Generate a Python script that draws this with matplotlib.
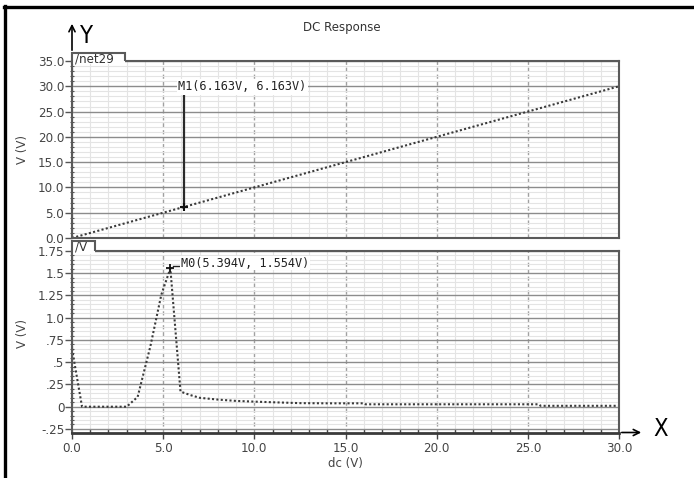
import matplotlib
matplotlib.use("Agg")
import matplotlib.pyplot as plt
from matplotlib.ticker import MultipleLocator, FixedLocator, FixedFormatter
from matplotlib.patches import Polygon, Rectangle, FancyArrowPatch
from matplotlib.lines import Line2D
from matplotlib import font_manager

# ---------------- data ----------------
title = "DC Response"
x_label = "dc (V)"
y_label = "V (V)"

top_name = "/net29"
top_x = [0.0, 5.0, 10.0, 15.0, 20.0, 25.0, 30.0]
top_y = [0.0, 5.0, 10.0, 15.0, 20.0, 25.0, 30.0]

bot_name = "/V"
bot_x = [0.0, 0.55, 1.0, 2.0, 3.0, 3.6, 4.3, 4.9, 5.394, 5.95, 6.5, 7.0, 8.0,
         9.0, 10.0, 11.0, 12.5, 14.0, 16.0, 16.1, 20.0, 25.6, 25.7, 30.0]
bot_y = [0.65, 0.0, 0.0, 0.0, 0.0, 0.11, 0.68, 1.26, 1.554, 0.17, 0.13, 0.10, 0.08,
         0.065, 0.057, 0.05, 0.04, 0.038, 0.038, 0.027, 0.027, 0.027, 0.01, 0.01]

m1 = (6.163, 6.163)
m1_label = "M1(6.163V, 6.163V)"
m0 = (5.394, 1.554)
m0_label = "M0(5.394V, 1.554V)"

x_ticks = [0.0, 5.0, 10.0, 15.0, 20.0, 25.0, 30.0]
x_ticklabels = ["0.0", "5.0", "10.0", "15.0", "20.0", "25.0", "30.0"]
top_yticks = [0.0, 5.0, 10.0, 15.0, 20.0, 25.0, 30.0, 35.0]
top_yticklabels = ["0.0", "5.0", "10.0", "15.0", "20.0", "25.0", "30.0", "35.0"]
bot_yticks = [-0.25, 0.0, 0.25, 0.5, 0.75, 1.0, 1.25, 1.5, 1.75]
bot_yticklabels = ["-.25", "0", ".25", ".5", ".75", "1.0", "1.25", "1.5", "1.75"]

# ---------------- figure ----------------
W, H = 694, 478
fig = plt.figure(figsize=(W / 100, H / 100), dpi=100)
fig.patch.set_facecolor("white")


def fx(px):
    return px / W


def fy(py):
    return 1 - py / H


L, R = 72, 619
ax1 = fig.add_axes([fx(L), fy(238), (R - L) / W, (238 - 61) / H])
ax2 = fig.add_axes([fx(L), fy(432.5), (R - L) / W, (432.5 - 251) / H])

tick_color = "#444444"
line_color = "#3a3a3a"
dotted = (0, (1, 1.1))

for ax in (ax1, ax2):
    ax.set_xlim(0, 30)
    ax.set_axisbelow(True)
    ax.xaxis.set_major_locator(FixedLocator(x_ticks))
    ax.xaxis.set_minor_locator(MultipleLocator(1.0))
    ax.grid(which="minor", axis="both", color="#e4e4e4", lw=0.8)
    ax.grid(which="major", axis="y", color="#8c8c8c", lw=1.0, ls="-")
    ax.grid(which="major", axis="x", color="#a0a0a0", lw=1.0, ls=(0, (3, 2)))
    for s in ax.spines.values():
        s.set_color("#5a5a5a")
        s.set_linewidth(1.5)
    ax.tick_params(axis="y", which="major", direction="out", length=5, width=1,
                   color="#555555", labelsize=8.6, labelcolor=tick_color, pad=0.5)
    ax.tick_params(axis="y", which="minor", direction="inout", length=3, width=0.8,
                   color="#555555")
    ax.set_ylabel(y_label, fontsize=8.5, color=tick_color)

# top panel
ax1.set_ylim(0, 35)
ax1.yaxis.set_major_locator(FixedLocator(top_yticks))
ax1.yaxis.set_major_formatter(FixedFormatter(top_yticklabels))
ax1.yaxis.set_minor_locator(MultipleLocator(1.0))
ax1.tick_params(axis="x", which="both", labelbottom=False, length=0)
ax1.plot(top_x, top_y, color=line_color, lw=1.5, ls=dotted)
ax1.yaxis.set_label_coords(-0.078, 0.5)

# bottom panel
ax2.set_ylim(-0.29, 1.75)
ax2.yaxis.set_major_locator(FixedLocator(bot_yticks))
ax2.yaxis.set_major_formatter(FixedFormatter(bot_yticklabels))
ax2.yaxis.set_minor_locator(MultipleLocator(0.05))
ax2.xaxis.set_major_formatter(FixedFormatter(x_ticklabels))
ax2.spines["bottom"].set_color("#3a3a3a")
ax2.spines["bottom"].set_linewidth(2.0)
ax2.tick_params(axis="x", which="major", direction="out", length=4, width=1,
                color="#444444", labelsize=8.6, labelcolor=tick_color, pad=3)
ax2.tick_params(axis="x", which="minor", direction="in", length=3, width=1,
                color="#444444")
ax2.plot(bot_x, bot_y, color=line_color, lw=1.5, ls=dotted)
ax2.yaxis.set_label_coords(-0.078, 0.548)
ax2.set_xlabel(x_label, fontsize=8.5, color=tick_color, labelpad=1)

# markers
mono = "DejaVu Sans Mono"
ax1.plot([m1[0], m1[0]], [m1[1], 28.3], color="#2a2a2a", lw=1.6)
ax1.plot([m1[0]], [m1[1]], marker="+", ms=6, mew=1.5, color="#111111")
ax1.text(5.81, 29.9, m1_label, fontsize=8.6, family=mono, color="#222222",
         ha="left", va="center",
         bbox=dict(facecolor="white", edgecolor="none", pad=1.0), zorder=5)

ax2.plot([m0[0]], [m0[1]], marker="+", ms=6, mew=1.3, color="#111111")
ax2.plot([m0[0] + 0.12, m0[0] + 0.55], [m0[1] + 0.03, m0[1] + 0.03],
         color="#222222", lw=1.0)
ax2.text(5.98, 1.615, m0_label, fontsize=8.6, family=mono, color="#222222",
         ha="left", va="center",
         bbox=dict(facecolor="white", edgecolor="none", pad=0.5), zorder=5)


# tabs (white box over the axes top with an open outline)
def tab(x0, x1, y_top, y_bot, name):
    rect = Rectangle((fx(x0) + 0.001, fy(y_bot)), fx(x1) - fx(x0) - 0.001, fy(y_top) - fy(y_bot),
                     facecolor="white", edgecolor="none", transform=fig.transFigure, zorder=3)
    fig.add_artist(rect)
    pts = [(fx(x0), fy(y_bot)), (fx(x0), fy(y_top)), (fx(x1), fy(y_top)), (fx(x1), fy(y_bot - 3))]
    poly = Polygon(pts, closed=False, fill=False, edgecolor="#5a5a5a", lw=1.5,
                   transform=fig.transFigure, zorder=4)
    fig.add_artist(poly)
    fig.text(fx(x0 + 3), fy(y_top + 5.5), name, fontsize=8.6, zorder=5,
             color="#333333", ha="left", va="center")


tab(L, 125, 53, 64, top_name)
tab(L, 95, 241, 254, bot_name)

# title
fig.text(fx(342), fy(28), title, fontsize=8.5, color="#333333", ha="center", va="center")

# axis arrows X / Y
names = {f.name for f in font_manager.fontManager.ttflist}
big_font = "Liberation Sans Narrow" if "Liberation Sans Narrow" in names else "DejaVu Sans"
fig.add_artist(FancyArrowPatch((fx(L), fy(53)), (fx(L), fy(21)), transform=fig.transFigure,
                               arrowstyle="->", mutation_scale=11, color="black", lw=1.2))
fig.add_artist(FancyArrowPatch((fx(R), fy(432.5)), (fx(644), fy(432.5)), transform=fig.transFigure,
                               arrowstyle="->", mutation_scale=11, color="black", lw=1.2))
fig.text(fx(80), fy(36), "Y", fontsize=17, family=big_font, fontstretch="condensed",
         color="black", ha="left", va="center")
fig.text(fx(653), fy(429), "X", fontsize=17, family=big_font, fontstretch="condensed",
         color="black", ha="left", va="center")

# outer frame
fig.add_artist(Line2D([fx(5), fx(5)], [fy(6), 0], transform=fig.transFigure,
                      color="black", lw=2.4))
fig.add_artist(Line2D([fx(4), 1], [fy(7), fy(7)], transform=fig.transFigure,
                      color="black", lw=2.4))

fig.savefig("out.png", dpi=100, facecolor="white")
